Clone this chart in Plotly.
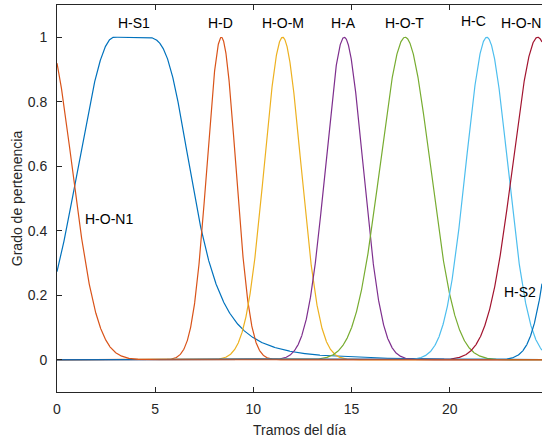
import numpy as np
import plotly.graph_objects as go

# Membership functions over the day segments
names = ["H-S1", "H-D", "H-O-M", "H-A", "H-O-T", "H-C", "H-O-N", "H-S2", "H-O-N1"]
colors = ["#0072BD", "#D95319", "#EDB120", "#7E2F8E", "#77AC30",
          "#4DBEEE", "#A2142F", "#0072BD", "#D95319"]

# Gaussian sets: centre and spread
gauss_names = ["H-D", "H-O-M", "H-A", "H-O-T", "H-C", "H-O-N", "H-S2", "H-O-N1"]
gauss_centers = [8.37, 11.49, 14.63, 17.73, 21.89, 24.48, 26.4, -0.52]
gauss_sigmas = [0.73, 0.93, 0.95, 1.27, 1.06, 1.27, 1.0, 1.27]

# H-S1: gaussian shoulder on the left, bell-shaped tail on the right
hs1_left_center, hs1_left_sigma = 2.9, 1.8
hs1_bell_center, hs1_bell_a, hs1_bell_b = 4.4, 2.63, 1.73

# Label positions (x, y)
label_text = ["H-S1", "H-D", "H-O-M", "H-A", "H-O-T", "H-C", "H-O-N", "H-O-N1", "H-S2"]
label_x = [3.9, 8.35, 11.49, 14.61, 17.7, 21.19, 23.64, 2.67, 23.6]
label_y = [1.045, 1.045, 1.045, 1.045, 1.045, 1.05, 1.045, 0.435, 0.209]

x_min, x_max = 0, 24.7
x = np.linspace(x_min, x_max, 2471)


def gaussmf(v, c, s):
    return np.exp(-((v - c) ** 2) / (2 * s ** 2))


def hs1(v):
    left = gaussmf(v, hs1_left_center, hs1_left_sigma)
    right = 1.0 / (1.0 + np.abs((v - hs1_bell_center) / hs1_bell_a) ** (2 * hs1_bell_b))
    out = np.ones_like(v)
    out[v < hs1_left_center] = left[v < hs1_left_center]
    out[v > hs1_bell_center] = right[v > hs1_bell_center]
    return out


curves = {"H-S1": hs1(x)}
for n, c, s in zip(gauss_names, gauss_centers, gauss_sigmas):
    curves[n] = gaussmf(x, c, s)

fig = go.Figure()
for n, col in zip(names, colors):
    fig.add_trace(go.Scatter(x=x, y=curves[n], mode="lines", name=n,
                             line=dict(color=col, width=1.2), showlegend=False))

for t, lx, ly in zip(label_text, label_x, label_y):
    fig.add_annotation(x=lx, y=ly, text=t, showarrow=False,
                       font=dict(size=14, color="#000000"),
                       xanchor="center", yanchor="middle")

axis_color = "#262626"
fig.update_layout(
    width=542, height=439,
    margin=dict(l=57, r=0, t=5, b=47),
    paper_bgcolor="white", plot_bgcolor="white",
    font=dict(family="Liberation Sans, Arial, sans-serif", size=14, color=axis_color),
    xaxis=dict(range=[x_min, x_max], tickvals=[0, 5, 10, 15, 20],
               ticks="inside", ticklen=5, tickcolor=axis_color,
               ticklabelstandoff=4,
               showline=True, linecolor=axis_color, linewidth=1, mirror="ticks",
               showgrid=False, zeroline=False,
               title=dict(text="Tramos del día", standoff=9, font=dict(size=14))),
    yaxis=dict(range=[-0.1, 1.1], tickvals=[0, 0.2, 0.4, 0.6, 0.8, 1],
               ticktext=["0", "0.2", "0.4", "0.6", "0.8", "1"],
               ticks="inside", ticklen=5, tickcolor=axis_color,
               ticklabelstandoff=6,
               showline=True, linecolor=axis_color, linewidth=1, mirror=False,
               showgrid=False, zeroline=False,
               title=dict(text="Grado de pertenencia", standoff=1, font=dict(size=14))),
)

fig.write_html("out.html")
